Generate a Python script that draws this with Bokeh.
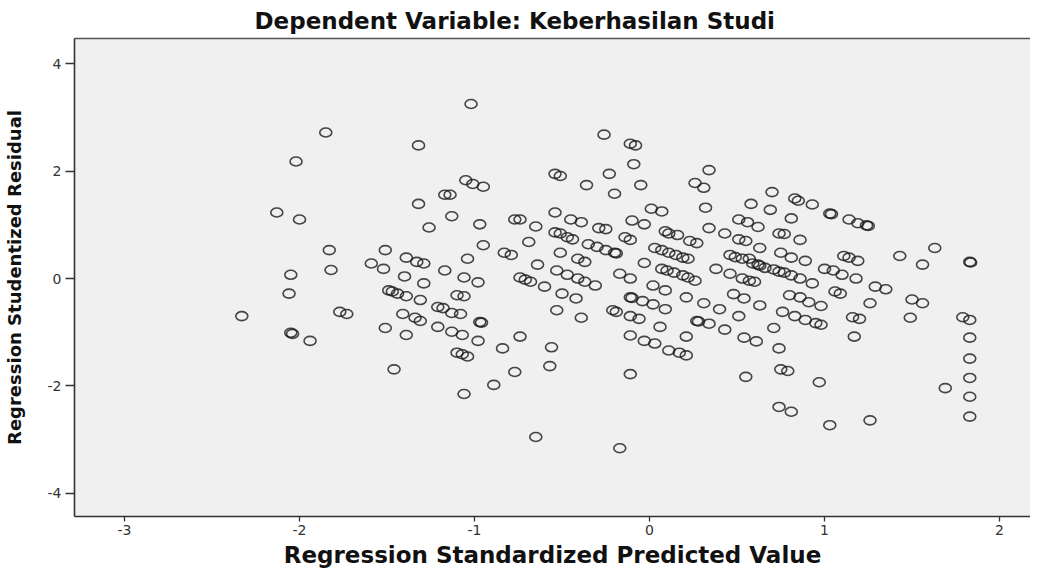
from bokeh.plotting import figure
from bokeh.models import Range1d, FixedTicker, LinearAxis
from bokeh.embed import file_html
from bokeh.resources import INLINE

title_text = "Dependent Variable: Keberhasilan Studi"
x_label = "Regression Standardized Predicted Value"
y_label = "Regression Studentized Residual"
x_ticks = [-3, -2, -1, 0, 1, 2]
y_ticks = [-4, -2, 0, 2, 4]

# predicted (x) and studentized residual (y) values
pred = [
    -1.02, -1.85, -1.32, -2.02, -1.17, -1.14, -2.13, -2.00, -1.32, -1.13, -1.26,
    -1.05, -1.01, -0.95,
    -1.83, -1.51, -1.39, -1.33, -1.29, -1.04, -1.59, -1.52, -1.17, -1.82, -2.05,
    -1.40, -1.06, -1.29, -2.06, -1.49, -1.47, -1.44, -1.39, -1.31, -1.10, -1.06,
    -1.21, -1.18, -1.13, -1.08, -2.33, -1.77, -1.73, -1.41, -1.34, -1.31, -2.05,
    -2.04, -1.94, -1.51, -1.39, -1.21, -1.13, -1.07, -1.10, -1.07, -1.04, -1.46,
    -1.06,
    -0.26, -0.11, -0.08, -0.09, -0.23, 0.34, -0.54, -0.51, -0.36, -0.20, -0.05,
    0.26, 0.31, 0.01, 0.07, 0.32, 0.58, -0.97, -0.77, -0.74, -0.65, -0.54, -0.45,
    -0.39, -0.29, -0.25, -0.10, -0.03, 0.09, 0.11, 0.16, 0.34, 0.43, 0.51, 0.56,
    0.62,
    -0.54, -0.51, -0.47, -0.44, -0.14, -0.11, 0.23, 0.27, 0.51, 0.55, 0.63,
    -0.95, -0.69, -0.83, -0.79, -0.51, -0.41, -0.37, -0.35, -0.30, -0.25, -0.20,
    -0.19, 0.03, 0.07, 0.11, 0.15, 0.19, 0.22, -0.03, 0.46, 0.49, 0.53, 0.57,
    0.62, -0.64, -0.53, -0.47, -0.41, -0.37, -0.31, -0.98, -0.74, -0.71, -0.68,
    -0.60, -0.17, -0.11, 0.07, 0.10, 0.14, 0.19, 0.22, 0.26, 0.38, 0.46, 0.53,
    0.57, 0.02, 0.09, -0.50, -0.42, -0.11, -0.10, -0.04, 0.02, 0.09, 0.21, 0.31,
    0.40, 0.48, 0.54, 0.63, -0.53, -0.39, -0.21, -0.19, -0.11, -0.06, 0.06, 0.27,
    0.28, 0.34, 0.43, 0.51, -0.97, -0.96, -0.98, -0.74, -0.11, -0.03, 0.03, 0.21,
    0.54, 0.61, -0.84, -0.56, 0.11, 0.17, 0.21, -0.77, -0.57, -0.89, -0.11, 0.55,
    0.70, 0.83, 0.85, 0.93, 1.03, 1.04, 1.14, 1.19, 1.24, 1.25, 0.69, 0.81, 0.74,
    0.77,
    0.86, 0.75, 0.81, 0.89, 1.11, 1.14, 1.19, 1.43, 1.63, 1.56, 1.83, 1.835, 0.59,
    0.63, 0.66, 0.71, 0.74, 0.77, 0.81, 0.86, 0.93, 1.00, 1.05, 1.10, 1.18, 0.60,
    1.29, 1.35, 1.06, 1.09, 1.26, 1.50, 1.56, 0.80, 0.86, 0.91, 0.98, 0.76, 0.83,
    0.89, 0.95, 0.98, 1.16, 1.20, 1.49, 1.79, 1.83, 0.71, 1.17, 0.74, 1.83, 1.83,
    0.75, 0.79, 0.97, 1.69, 1.83, 1.83, 1.83, 0.74, 0.81, 1.03, 1.26,
    -0.65, -0.17,
]
resid = [
    3.25, 2.72, 2.48, 2.18, 1.56, 1.56, 1.23, 1.10, 1.39, 1.16, 0.95,
    1.83, 1.76, 1.71,
    0.53, 0.53, 0.39, 0.31, 0.28, 0.37, 0.28, 0.18, 0.15, 0.16, 0.07,
    0.04, 0.02, -0.09, -0.28, -0.22, -0.24, -0.28, -0.33, -0.40, -0.31, -0.33,
    -0.53, -0.55, -0.64, -0.66, -0.70, -0.62, -0.66, -0.66, -0.73, -0.79, -1.01,
    -1.03, -1.16, -0.92, -1.05, -0.90, -0.99, -1.05, -1.38, -1.41, -1.45, -1.69,
    -2.15,
    2.68, 2.51, 2.48, 2.13, 1.95, 2.02, 1.95, 1.91, 1.74, 1.58, 1.74,
    1.78, 1.69, 1.30, 1.25, 1.32, 1.39, 1.01, 1.10, 1.10, 0.97, 1.23, 1.10,
    1.05, 0.94, 0.92, 1.08, 1.01, 0.88, 0.84, 0.81, 0.94, 0.84, 1.10, 1.05,
    0.96,
    0.86, 0.84, 0.77, 0.73, 0.77, 0.72, 0.70, 0.66, 0.73, 0.70, 0.57,
    0.62, 0.68, 0.48, 0.44, 0.48, 0.37, 0.31, 0.64, 0.59, 0.53, 0.48,
    0.47, 0.57, 0.53, 0.48, 0.44, 0.39, 0.37, 0.29, 0.44, 0.40, 0.37, 0.37,
    0.26, 0.26, 0.15, 0.07, 0.00, -0.06, -0.13, -0.07, 0.02, -0.02, -0.06,
    -0.15, 0.09, 0.00, 0.18, 0.15, 0.11, 0.06, 0.02, -0.04, 0.18, 0.09, 0.00,
    -0.04, -0.13, -0.22, -0.28, -0.37, -0.35, -0.36, -0.42, -0.48, -0.57, -0.35, -0.46,
    -0.57, -0.29, -0.37, -0.50, -0.59, -0.73, -0.59, -0.62, -0.70, -0.75, -0.90, -0.79,
    -0.80, -0.84, -0.95, -0.70, -0.81, -0.82, -1.16, -1.08, -1.06, -1.16, -1.21, -1.08,
    -1.10, -1.17, -1.30, -1.28, -1.34, -1.38, -1.43, -1.74, -1.63, -1.98, -1.78, -1.83,
    1.61, 1.49, 1.45, 1.38, 1.21, 1.20, 1.10, 1.03, 0.99, 0.98, 1.28, 1.12, 0.84,
    0.83,
    0.72, 0.48, 0.39, 0.33, 0.42, 0.39, 0.33, 0.42, 0.57, 0.26, 0.31, 0.30, 0.28,
    0.24, 0.20, 0.17, 0.13, 0.11, 0.06, 0.00, -0.09, 0.18, 0.15, 0.07, 0.00, -0.06,
    -0.15, -0.20, -0.24, -0.28, -0.46, -0.39, -0.46, -0.31, -0.35, -0.44, -0.51, -0.62, -0.70,
    -0.77, -0.83, -0.86, -0.72, -0.75, -0.73, -0.72, -0.77, -0.92, -1.08, -1.30, -1.10, -1.49,
    -1.69, -1.72, -1.93, -2.04, -1.85, -2.20, -2.57, -2.39, -2.48, -2.73, -2.64,
    -2.95, -3.16,
]

p = figure(width=1030, height=572, output_backend="svg", toolbar_location=None,
           x_range=Range1d(-3.286, 2.177), y_range=Range1d(-4.43, 4.47),
           title=title_text)
p.min_border_left = 74
p.min_border_right = 0
p.min_border_top = 31
p.min_border_bottom = 56
p.background_fill_color = "#f0f0f0"
p.border_fill_color = "white"
p.outline_line_color = None
p.xgrid.visible = False
p.ygrid.visible = False

p.title.align = "left"
p.title.offset = 180
p.title.text_font = "DejaVu Sans"
p.title.text_font_style = "bold"
p.title.text_font_size = "23px"
p.title.text_color = "#111111"

for ax in (p.xaxis[0], p.yaxis[0]):
    ax.axis_line_color = "#333333"
    ax.axis_line_width = 1.6
    ax.major_tick_line_color = "#333333"
    ax.major_tick_line_width = 1.3
    ax.minor_tick_line_color = None
    ax.major_tick_in = 0
    ax.major_label_text_font = "DejaVu Sans"
    ax.major_label_text_font_size = "14px"
    ax.major_label_text_color = "#333333"
    ax.axis_label_text_font = "DejaVu Sans"
    ax.axis_label_text_font_style = "bold"
    ax.axis_label_text_color = "#111111"

p.xaxis.ticker = FixedTicker(ticks=x_ticks)
p.yaxis.ticker = FixedTicker(ticks=y_ticks)
p.xaxis.major_label_overrides = {t: str(t) for t in x_ticks}
p.yaxis.major_label_overrides = {t: str(t) for t in y_ticks}
p.xaxis.axis_label = x_label
p.yaxis.axis_label = y_label
p.xaxis.major_tick_out = 5
p.yaxis.major_tick_out = 9
p.xaxis.major_label_standoff = 3
p.yaxis.major_label_standoff = 4
p.xaxis.axis_label_text_font_size = "23px"
p.yaxis.axis_label_text_font_size = "18px"
p.xaxis.axis_label_standoff = 4
p.yaxis.axis_label_standoff = 20

top = LinearAxis(ticker=FixedTicker(ticks=[]), major_label_text_font_size="0px",
                 axis_line_color="#555555", axis_line_width=1.5,
                 minor_tick_line_color=None, major_tick_line_color=None)
p.add_layout(top, "above")

p.ellipse(x=pred, y=resid, width=12, height=9, width_units="screen",
          height_units="screen", fill_color=None, line_color="#1a1a1a",
          line_width=1.6, line_alpha=0.8)

open("out.html", "w").write(file_html(p, INLINE))
